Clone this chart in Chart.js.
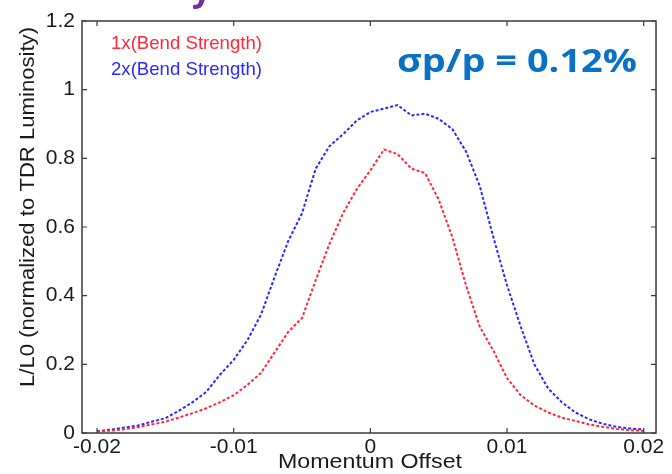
<!DOCTYPE html>
<html>
<head>
<meta charset="utf-8">
<script src="https://cdn.jsdelivr.net/npm/chart.js@4"></script>
<style>
    html, body { margin: 0; padding: 0; background: #fff; }
    #wrap { width: 672px; height: 474px; position: relative; }
</style>
</head>
<body>
<div id="wrap"><canvas id="lumi-chart"></canvas></div>
<script>
// Momentum offset (x) and luminosity ratio L/L0 for each bend strength
const offsets = [-0.020, -0.019, -0.018, -0.017, -0.016, -0.015, -0.014, -0.013, -0.012, -0.011,
    -0.010, -0.009, -0.008, -0.007, -0.006, -0.005, -0.004, -0.003, -0.002, -0.001,
    0.000, 0.001, 0.002, 0.003, 0.004, 0.005, 0.006, 0.007, 0.008, 0.009,
    0.010, 0.011, 0.012, 0.013, 0.014, 0.015, 0.016, 0.017, 0.018, 0.019, 0.020];

const lumi1x = [0.004, 0.007, 0.011, 0.017, 0.025, 0.033, 0.045, 0.058, 0.072, 0.090,
    0.110, 0.140, 0.175, 0.235, 0.295, 0.335, 0.445, 0.550, 0.640, 0.710,
    0.765, 0.826, 0.812, 0.770, 0.757, 0.680, 0.570, 0.430, 0.310, 0.240,
    0.160, 0.110, 0.080, 0.060, 0.045, 0.035, 0.025, 0.018, 0.012, 0.008, 0.006];

const lumi2x = [0.005, 0.010, 0.016, 0.022, 0.033, 0.043, 0.065, 0.090, 0.120, 0.170,
    0.213, 0.270, 0.345, 0.455, 0.560, 0.640, 0.770, 0.835, 0.870, 0.910,
    0.935, 0.945, 0.955, 0.925, 0.930, 0.915, 0.885, 0.820, 0.720, 0.570,
    0.430, 0.310, 0.200, 0.130, 0.090, 0.060, 0.040, 0.027, 0.018, 0.013, 0.010];

const xTicks = [-0.02, -0.01, 0, 0.01, 0.02];
const xTickLabels = ["-0.02", "-0.01", "0", "0.01", "0.02"];
const yTicks = [0, 0.2, 0.4, 0.6, 0.8, 1.0, 1.2];
const yTickLabels = ["0", "0.2", "0.4", "0.6", "0.8", "1", "1.2"];

const seriesNames = ["1x(Bend Strength)", "2x(Bend Strength)"];
const seriesColors = ["#ff2a3a", "#2a2aff"];

const FONT = "'Liberation Sans', Arial, sans-serif";

// draw text, optionally stretched horizontally to a target width
function drawText(ctx, text, x, y, font, color, targetWidth, rotate) {
    ctx.save();
    ctx.font = font;
    ctx.fillStyle = color;
    ctx.textBaseline = "middle";
    ctx.textAlign = "left";
    const w = ctx.measureText(text).width;
    const sx = targetWidth ? targetWidth / w : 1;
    ctx.translate(x, y);
    if (rotate) ctx.rotate(rotate);
    ctx.scale(sx, 1);
    ctx.fillText(text, 0, 0);
    ctx.restore();
}

// frame, inward ticks on all four sides, and the annotations
const framePlugin = {
    id: "frame",
    afterDatasetsDraw(chart) {
        const { ctx, chartArea: a, scales } = chart;
        const tick = 5;
        ctx.save();
        ctx.strokeStyle = "#3a3a3a";
        ctx.lineWidth = 1.5;
        ctx.strokeRect(a.left, a.top, a.right - a.left, a.bottom - a.top);
        ctx.lineWidth = 1.2;
        ctx.beginPath();
        xTicks.forEach(v => {
            const px = scales.x.getPixelForValue(v);
            ctx.moveTo(px, a.bottom); ctx.lineTo(px, a.bottom - tick);
            ctx.moveTo(px, a.top); ctx.lineTo(px, a.top + tick);
        });
        yTicks.forEach(v => {
            const py = scales.y.getPixelForValue(v);
            ctx.moveTo(a.left, py); ctx.lineTo(a.left + tick, py);
            ctx.moveTo(a.right, py); ctx.lineTo(a.right - tick, py);
        });
        ctx.stroke();
        ctx.restore();

        // series labels
        drawText(ctx, seriesNames[0], 111, 44, "19px " + FONT, seriesColors[0], 151);
        drawText(ctx, seriesNames[1], 111, 70, "19px " + FONT, seriesColors[1], 151);

        // momentum spread
        drawText(ctx, "\u03c3p/p = 0.12%", 397, 63, "bold 32px 'Open Sans', sans-serif", "#0a72c4", 240);
    },
    afterDraw(chart) {
        const { ctx } = chart;
        // axis titles
        drawText(ctx, "L/L0 (normalized to TDR Luminosity)", 28, 387, "21px " + FONT, "#1a1a1a", 360, -Math.PI / 2);
        drawText(ctx, "Momentum Offset", 278, 462, "21px " + FONT, "#1a1a1a", 184);
        // cut-off slide title letter at the very top
        ctx.save();
        ctx.font = "bold 34px 'Open Sans', sans-serif";
        ctx.fillStyle = "#7030a0";
        ctx.textBaseline = "alphabetic";
        ctx.fillText("y", 192, 1);
        ctx.restore();
    }
};

const ctx = document.getElementById("lumi-chart").getContext("2d");

const chart = new Chart(ctx, {
    type: "line",
    data: {
        datasets: [lumi1x, lumi2x].map((vals, i) => ({
            label: seriesNames[i],
            data: offsets.map((x, k) => ({ x: x, y: vals[k] })),
            borderColor: seriesColors[i],
            borderWidth: 2,
            borderDash: [3, 2],
            pointRadius: 0,
            tension: 0,
            fill: false
        }))
    },
    options: {
        responsive: true,
        maintainAspectRatio: false,
        animation: false,
        layout: { padding: { left: 0, right: 16, top: 21, bottom: 0 } },
        plugins: {
            legend: { display: false },
            tooltip: { enabled: false }
        },
        scales: {
            x: {
                type: "linear",
                min: -0.0211,
                max: 0.0209,
                grid: { display: false, drawTicks: false },
                border: { display: false },
                afterBuildTicks: scale => { scale.ticks = xTicks.map(v => ({ value: v })); },
                afterFit: scale => { scale.height = 41; },
                ticks: {
                    padding: 2,
                    color: "#1a1a1a",
                    font: { family: FONT, size: 21 },
                    callback: (v) => xTickLabels[xTicks.indexOf(v)]
                }
            },
            y: {
                min: 0,
                max: 1.2,
                grid: { display: false, drawTicks: false },
                border: { display: false },
                afterBuildTicks: scale => { scale.ticks = yTicks.map(v => ({ value: v })); },
                afterFit: scale => { scale.width = 82; },
                ticks: {
                    padding: 7,
                    color: "#1a1a1a",
                    font: { family: FONT, size: 21 },
                    callback: (v) => yTickLabels[yTicks.indexOf(v)]
                }
            }
        }
    },
    plugins: [framePlugin]
});
</script>
</body>
</html>
